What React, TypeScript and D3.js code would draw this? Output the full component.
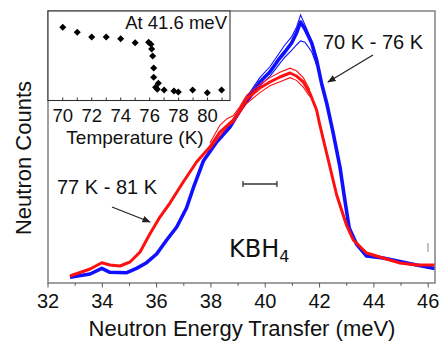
import React from "react";
import * as d3 from "d3";

// Main spectra: [energy transfer (meV), counts (arb.)]
const blueMain: [number, number][] = [
  [32.81, 2.1], [33.55, 3.31], [33.98, 5.4], [34.28, 3.93], [34.9, 3.79], [35.26, 5.4],
  [35.63, 7.46], [36.0, 10.66], [36.37, 15.81], [36.74, 20.59], [37.1, 27.57], [37.35, 34.93],
  [37.72, 44.85], [38.21, 51.84], [38.7, 57.35], [39.19, 65.44], [39.8, 73.9], [40.17, 77.57],
  [40.48, 81.99], [40.72, 84.93], [40.97, 88.24], [41.15, 91.91], [41.3, 95.96], [41.46, 93.38],
  [41.71, 88.24], [41.89, 81.99], [42.07, 73.53], [42.26, 66.18], [42.5, 55.15], [42.75, 42.65],
  [42.93, 30.51], [43.09, 20.22], [43.36, 14.34], [43.73, 9.93], [44.34, 9.19], [44.96, 7.9],
  [45.57, 6.62], [46.24, 5.33],
];
const blueHi: [number, number][] = [
  [39.19, 66.5], [39.8, 75.5], [40.17, 79.5], [40.48, 84], [40.72, 87.5], [40.97, 90.5],
  [41.15, 94], [41.3, 98.5], [41.46, 95], [41.71, 89], [41.89, 82.5],
];
const blueLo: [number, number][] = [
  [39.19, 64.5], [39.8, 72.5], [40.17, 76], [40.48, 80], [40.72, 83], [40.97, 85.5],
  [41.15, 87.5], [41.3, 89], [41.46, 88.5], [41.71, 85], [41.89, 80],
];
const redMain: [number, number][] = [
  [32.81, 2.57], [33.55, 5.15], [33.98, 7.46], [34.28, 6.62], [34.65, 6.25], [35.02, 7.72],
  [35.39, 11.4], [35.75, 18.01], [36.12, 24.26], [36.49, 29.41], [36.98, 37.13], [37.47, 44.49],
  [37.96, 50.0], [38.33, 55.51], [38.82, 59.93], [39.07, 63.6], [39.31, 67.65], [39.8, 71.69],
  [40.17, 73.9], [40.54, 75.74], [40.91, 77.21], [41.15, 76.1], [41.4, 73.9], [41.64, 69.85],
  [41.89, 63.6], [42.01, 58.09], [42.32, 45.22], [42.63, 32.35], [42.99, 21.32], [43.24, 15.81],
  [43.73, 11.03], [44.34, 9.19], [44.96, 7.35], [45.57, 6.62], [46.24, 6.62],
];
const redHi: [number, number][] = [
  [37.96, 51.5], [38.33, 58], [38.6, 60.5], [38.82, 61.5], [39.07, 65], [39.31, 69],
  [39.8, 73], [40.17, 75.5], [40.54, 77.5], [40.91, 79], [41.15, 78], [41.4, 75.5], [41.64, 71],
];
const redLo: [number, number][] = [
  [37.96, 49], [38.33, 54], [38.6, 57.5], [38.82, 59], [39.07, 62.5], [39.31, 66],
  [39.8, 70], [40.17, 72.5], [40.54, 74], [40.91, 75.5], [41.15, 74.5], [41.4, 72], [41.64, 68.5],
];

// Inset: temperature (K) vs intensity at 41.6 meV (arb.)
const insetTemps = [70, 71, 72, 73, 74, 75, 75.93, 76.09, 76.14, 76.21, 76.28, 76.28, 76.6, 76.41, 76.53, 77.0, 77.68, 77.98, 78.97, 79.98, 80.97];
const insetVals = [0.808, 0.752, 0.7, 0.7, 0.681, 0.637, 0.641, 0.619, 0.567, 0.489, 0.356, 0.252, 0.186, 0.141, 0.119, 0.111, 0.1, 0.089, 0.111, 0.081, 0.111];

const xMajor = [32, 34, 36, 38, 40, 42, 44, 46];
const xMinor = [33, 35, 37, 39, 41, 43, 45];
const insetMajor = [70, 72, 74, 76, 78, 80];
const insetTicks = [70, 71, 72, 73, 74, 75, 76, 77, 78, 79, 80, 81];

const resolutionBar = [39.18, 40.43, 36.4]; // x0, x1, y
const smallBar = [45.99, 11.4, 14.7]; // x, y0, y1

const FONT = "'Liberation Sans', Arial, sans-serif";

export default function App() {
  const W = 441, H = 341;
  const L = 48, R = 435, T = 11, B = 283;
  const x = d3.scaleLinear().domain([32, 46.25]).range([L, R]);
  const y = d3.scaleLinear().domain([0, 100]).range([B, T]);

  const iL = 48, iR = 230, iT = 11, iB = 100.5;
  const ix = d3.scaleLinear().domain([68.98, 81.55]).range([iL, iR]);
  const iy = d3.scaleLinear().domain([0, 1]).range([100, 10]);

  const line = d3.line<[number, number]>().x((d) => x(d[0])).y((d) => y(d[1]));

  const blue = "#1010ff";
  const red = "#ff1010";

  return (
    <svg width={W} height={H} style={{ position: "absolute", left: 0, top: 0, background: "#fff" }} fontFamily={FONT}>
      <defs>
        <marker id="ah" viewBox="0 0 10 10" refX="9" refY="5" markerWidth="7" markerHeight="7" orient="auto-start-reverse">
          <path d="M0,1 L10,5 L0,9 z" fill="#222" />
        </marker>
      </defs>
      <rect x={0} y={0} width={W} height={H} fill="#fff" />

      {/* spectra */}
      <path d={line(blueMain)!} fill="none" stroke={blue} strokeWidth={3.6} strokeLinejoin="round" />
      <path d={line(blueHi)!} fill="none" stroke={blue} strokeWidth={1.1} />
      <path d={line(blueLo)!} fill="none" stroke={blue} strokeWidth={1.1} />
      <path d={line(redMain)!} fill="none" stroke={red} strokeWidth={3} strokeLinejoin="round" />
      <path d={line(redHi)!} fill="none" stroke={red} strokeWidth={1.1} />
      <path d={line(redLo)!} fill="none" stroke={red} strokeWidth={1.1} />

      {/* frame */}
      <rect x={L} y={T} width={R - L} height={B - T} fill="none" stroke="#777" strokeWidth={1.4} />

      {/* x ticks */}
      {xMajor.map((t) => (
        <g key={"M" + t}>
          <line x1={x(t)} x2={x(t)} y1={B} y2={B + 4.5} stroke="#555" strokeWidth={1} />
          <text x={x(t)} y={308} fontSize={20} textAnchor="middle" fill="#111">{t}</text>
        </g>
      ))}
      {xMinor.map((t) => (
        <line key={"m" + t} x1={x(t)} x2={x(t)} y1={B} y2={B + 2.8} stroke="#555" strokeWidth={1} />
      ))}
      <text x={242} y={336} fontSize={22} textAnchor="middle" fill="#111">Neutron Energy Transfer (meV)</text>
      <text transform="translate(31,158) rotate(-90)" fontSize={22} textAnchor="middle" fill="#111">Neutron Counts</text>

      {/* resolution bar */}
      <g stroke="#333" strokeWidth={1.3}>
        <line x1={x(resolutionBar[0])} x2={x(resolutionBar[1])} y1={y(resolutionBar[2])} y2={y(resolutionBar[2])} />
        <line x1={x(resolutionBar[0])} x2={x(resolutionBar[0])} y1={y(resolutionBar[2]) - 3} y2={y(resolutionBar[2]) + 3} />
        <line x1={x(resolutionBar[1])} x2={x(resolutionBar[1])} y1={y(resolutionBar[2]) - 3} y2={y(resolutionBar[2]) + 3} />
      </g>
      <line x1={x(smallBar[0])} x2={x(smallBar[0])} y1={y(smallBar[1])} y2={y(smallBar[2])} stroke="#888" strokeWidth={1} />

      {/* labels */}
      <text x={323} y={49} fontSize={20} fill="#111">70 K - 76 K</text>
      <line x1={373} y1={55} x2={328} y2={82} stroke="#222" strokeWidth={1.2} markerEnd="url(#ah)" />
      <text x={57} y={194} fontSize={20} fill="#111">77 K - 81 K</text>
      <line x1={112} y1={207} x2={150} y2={222} stroke="#222" strokeWidth={1.2} markerEnd="url(#ah)" />
      <text x={229} y={257} fontSize={24} fill="#111" fontFamily="'DejaVu Sans', sans-serif">
        KBH<tspan fontSize={16} dy={5}>4</tspan>
      </text>

      {/* inset */}
      <rect x={iL} y={iT} width={iR - iL} height={iB - iT} fill="#fff" stroke="#333" strokeWidth={1.1} />
      {insetTicks.map((t) => (
        <line key={"it" + t} x1={ix(t)} x2={ix(t)} y1={iB} y2={iB - 3} stroke="#333" strokeWidth={1} />
      ))}
      {insetMajor.map((t) => (
        <text key={"il" + t} x={ix(t)} y={122} fontSize={18.5} textAnchor="middle" fill="#111">{t}</text>
      ))}
      <text x={135} y={144} fontSize={19} textAnchor="middle" fill="#111">Temperature (K)</text>
      <text x={227} y={29} fontSize={18.5} textAnchor="end" fill="#111">At 41.6 meV</text>
      {insetTemps.map((t, i) => (
        <rect key={"p" + i} x={-2.5} y={-2.5} width={5} height={5} fill="#000"
          transform={`translate(${ix(t)},${iy(insetVals[i])}) rotate(45)`} />
      ))}
    </svg>
  );
}
